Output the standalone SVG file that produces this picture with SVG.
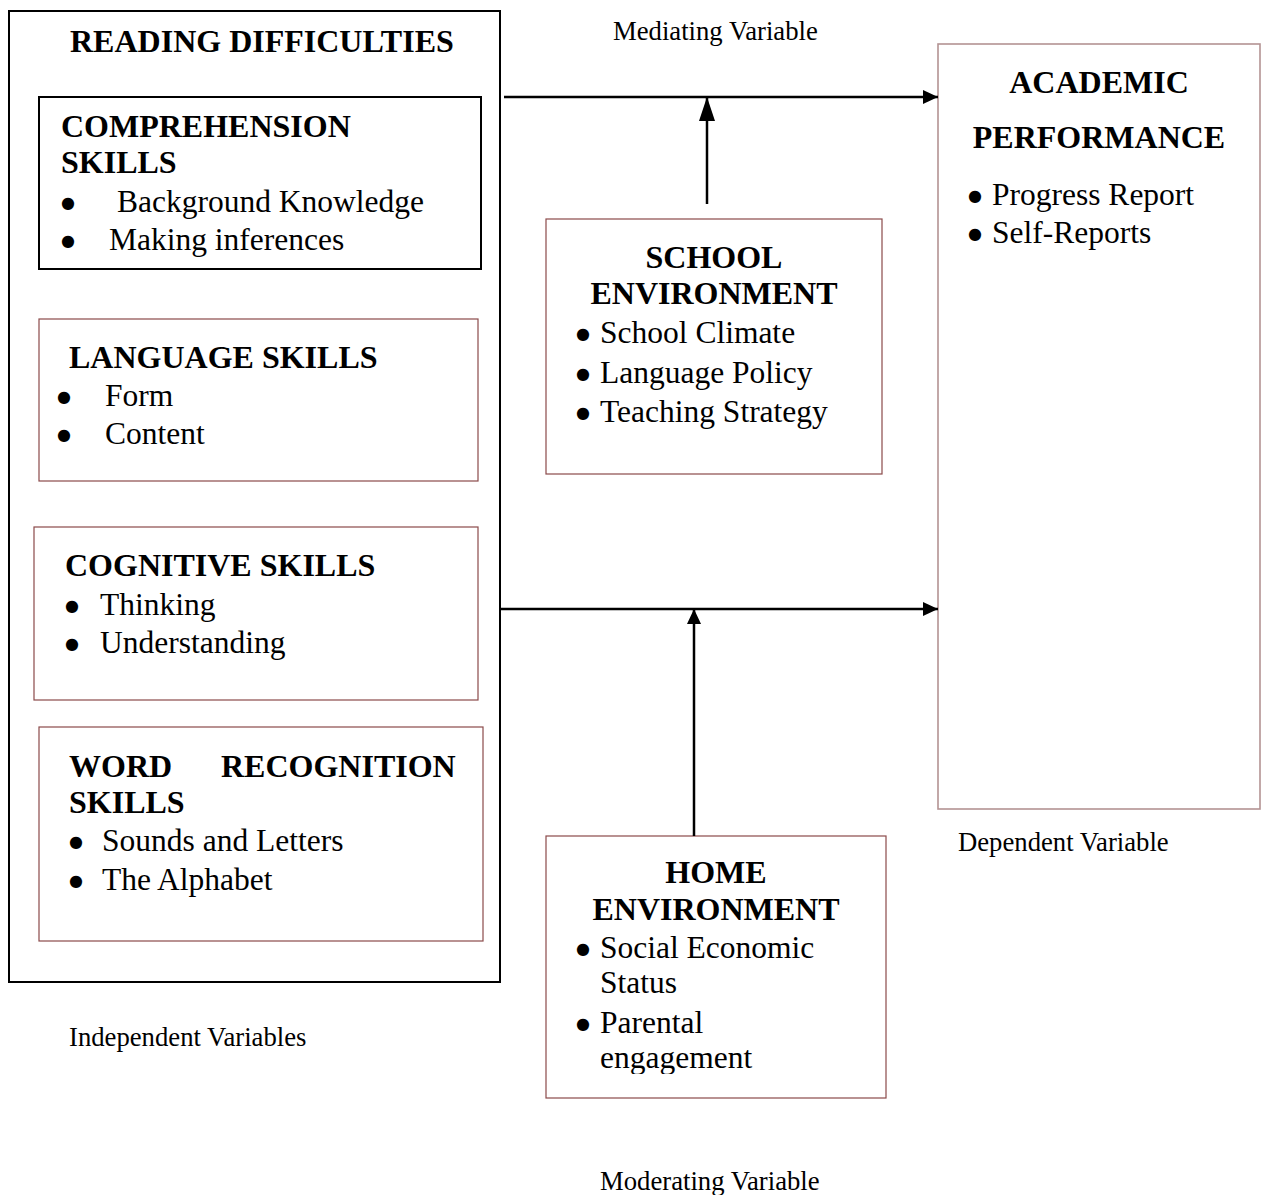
<svg xmlns="http://www.w3.org/2000/svg" width="1267" height="1195" viewBox="0 0 1267 1195">
<style>
.b{font-family:"Liberation Serif","Times New Roman",serif;font-weight:bold;font-size:32px;fill:#000}
.t{font-family:"Liberation Serif","Times New Roman",serif;font-size:31.5px;fill:#000}
.s{font-family:"Liberation Serif","Times New Roman",serif;font-size:26.7px;fill:#000}
.bu{font-family:"DejaVu Sans",sans-serif;font-size:16px}
.blk{fill:#fff;stroke:#000;stroke-width:2}
.br{fill:#fff;stroke:#8b4a4a;stroke-width:1.2}
.lt{fill:#fff;stroke:#b39393;stroke-width:1.6}
.c{text-anchor:middle}
.ln{stroke:#000;stroke-width:2.5;fill:none}
</style>
<defs>
<marker id="ah" markerWidth="15" markerHeight="14" refX="15" refY="7" orient="auto" markerUnits="userSpaceOnUse" viewBox="0 0 15 14">
<path d="M0,0 L15,7 L0,14 Z" fill="#000"/>
</marker>
<marker id="ahl" markerWidth="24" markerHeight="16" refX="24" refY="8" orient="auto" markerUnits="userSpaceOnUse" viewBox="0 0 24 16">
<path d="M0,0 L24,8 L0,16 Z" fill="#000"/>
</marker>
<clipPath id="homeclip"><rect x="546" y="836" width="340" height="238"/></clipPath>
</defs>
<rect width="1267" height="1195" fill="#fff"/>

<g id="reading-difficulties">
<rect class="blk" x="9" y="11" width="491" height="971"/>
<text class="b" x="70" y="52">READING DIFFICULTIES</text>
</g>

<g id="comprehension-skills">
<rect class="blk" x="39" y="97" width="442" height="172"/>
<text class="b" x="61" y="137">COMPREHENSION</text>
<text class="b" x="61" y="173">SKILLS</text>
<text class="t" y="212"><tspan class="bu" x="61" dy="-4">●</tspan><tspan x="117" dy="4">Background Knowledge</tspan></text>
<text class="t" y="250"><tspan class="bu" x="61" dy="-4">●</tspan><tspan x="109" dy="4">Making inferences</tspan></text>
</g>

<g id="language-skills">
<rect class="br" x="39" y="319" width="439" height="162"/>
<text class="b" x="69" y="368">LANGUAGE SKILLS</text>
<text class="t" y="406"><tspan class="bu" x="57" dy="-4">●</tspan><tspan x="105" dy="4">Form</tspan></text>
<text class="t" y="444"><tspan class="bu" x="57" dy="-4">●</tspan><tspan x="105" dy="4">Content</tspan></text>
</g>

<g id="cognitive-skills">
<rect class="br" x="34" y="527" width="444" height="173"/>
<text class="b" x="65" y="576">COGNITIVE SKILLS</text>
<text class="t" y="615"><tspan class="bu" x="65" dy="-4">●</tspan><tspan x="100" dy="4">Thinking</tspan></text>
<text class="t" y="653"><tspan class="bu" x="65" dy="-4">●</tspan><tspan x="100" dy="4">Understanding</tspan></text>
</g>

<g id="word-recognition-skills">
<rect class="br" x="39" y="727" width="444" height="214"/>
<text class="b" x="69" y="777">WORD</text>
<text class="b" x="221" y="777">RECOGNITION</text>
<text class="b" x="69" y="813">SKILLS</text>
<text class="t" y="851"><tspan class="bu" x="69" dy="-4">●</tspan><tspan x="102" dy="4">Sounds and Letters</tspan></text>
<text class="t" y="890"><tspan class="bu" x="69" dy="-4">●</tspan><tspan x="102" dy="4">The Alphabet</tspan></text>
</g>

<g id="school-environment">
<rect class="br" x="546" y="219" width="336" height="255"/>
<text class="b c" x="714" y="268">SCHOOL</text>
<text class="b c" x="714" y="304">ENVIRONMENT</text>
<text class="t" y="343"><tspan class="bu" x="576" dy="-4">●</tspan><tspan x="600" dy="4">School Climate</tspan></text>
<text class="t" y="383"><tspan class="bu" x="576" dy="-4">●</tspan><tspan x="600" dy="4">Language Policy</tspan></text>
<text class="t" y="422"><tspan class="bu" x="576" dy="-4">●</tspan><tspan x="600" dy="4">Teaching Strategy</tspan></text>
</g>

<g id="home-environment">
<rect class="br" x="546" y="836" width="340" height="262"/>
<text class="b c" x="716" y="883">HOME</text>
<text class="b c" x="716" y="920">ENVIRONMENT</text>
<text class="t" y="958"><tspan class="bu" x="576" dy="-4">●</tspan><tspan x="600" dy="4">Social Economic</tspan></text>
<text class="t" x="600" y="993">Status</text>
<text class="t" y="1033"><tspan class="bu" x="576" dy="-4">●</tspan><tspan x="600" dy="4">Parental</tspan></text>
<text class="t" x="600" y="1068" clip-path="url(#homeclip)">engagement</text>
</g>

<g id="academic-performance">
<rect class="lt" x="938" y="44" width="322" height="765"/>
<text class="b c" x="1099" y="93">ACADEMIC</text>
<text class="b c" x="1099" y="148">PERFORMANCE</text>
<text class="t" y="205"><tspan class="bu" x="968" dy="-4">●</tspan><tspan x="992" dy="4">Progress Report</tspan></text>
<text class="t" y="243"><tspan class="bu" x="968" dy="-4">●</tspan><tspan x="992" dy="4">Self-Reports</tspan></text>
</g>

<g id="labels">
<text class="s" x="613" y="40">Mediating Variable</text>
<text class="s" x="958" y="851">Dependent Variable</text>
<text class="s" x="69" y="1046">Independent Variables</text>
<text class="s" x="600" y="1190">Moderating Variable</text>
</g>

<g id="connectors">
<line class="ln" x1="504" y1="97" x2="938" y2="97" marker-end="url(#ah)"/>
<line class="ln" x1="707" y1="204" x2="707" y2="97" marker-end="url(#ahl)"/>
<line class="ln" x1="500" y1="609" x2="938" y2="609" marker-end="url(#ah)"/>
<line class="ln" x1="694" y1="836" x2="694" y2="609" marker-end="url(#ah)"/>
</g>
</svg>
